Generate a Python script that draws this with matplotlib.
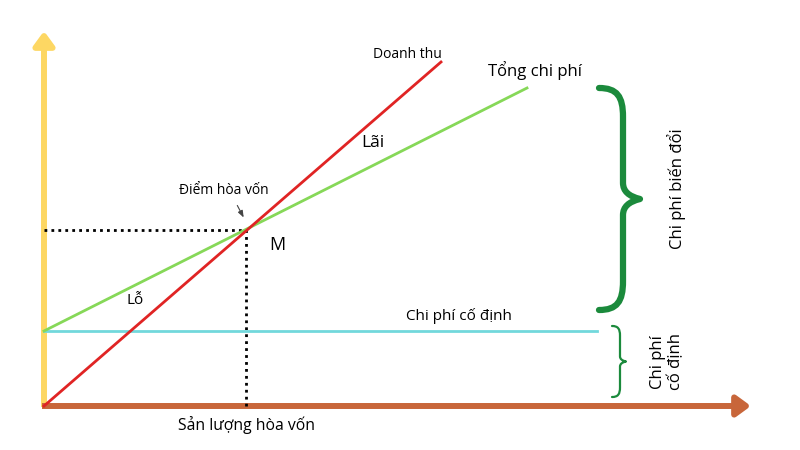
import numpy as np
import matplotlib.pyplot as plt
from matplotlib.path import Path
from matplotlib.patches import PathPatch, FancyArrowPatch

plt.rcParams['font.family'] = ['Open Sans', 'DejaVu Sans']

# san luong (truc hoanh) va gia tri (truc tung), don vi tuy y
q_revenue = [0, 397]
revenue = [0, 344]
q_cost = [0, 483]
total_cost = [75, 318]
q_fixed = [0, 553]
fixed_cost = [75, 75]
q_be, v_be = 202, 176

fig = plt.figure(figsize=(8, 4.5), dpi=100)
ax = fig.add_axes([0, 0, 1, 1])
ax.set_xlim(-44, 756)
ax.set_ylim(-44, 406)
ax.axis('off')

# truc toa do co mui ten
arrow_kw = dict(arrowstyle='-|>,head_length=0.85,head_width=0.62', mutation_scale=10,
                lw=4.3, shrinkA=0, shrinkB=0, joinstyle='round', capstyle='butt')
ax.add_patch(FancyArrowPatch((0, -1), (0, 375), color='#fdd763', **arrow_kw))
ax.add_patch(FancyArrowPatch((-2, 0), (707, 0), color='#c8663a', **arrow_kw))

ax.plot(q_fixed, fixed_cost, color='#72d8dc', lw=2, zorder=3)
ax.plot(q_cost, total_cost, color='#86d858', lw=2, zorder=3)
ax.plot(q_revenue, revenue, color='#e02424', lw=2, zorder=4)

# duong cham toi diem hoa von
ax.plot([0, q_be], [v_be, v_be], color='black', lw=2, ls=(0, (1, 1.5)), zorder=2)
ax.plot([q_be, q_be], [0, v_be], color='black', lw=2, ls=(0, (1, 1.5)), zorder=2)


def brace(x0, y0, y1, a, w, h, lw, color):
    # ngoac nhon quay sang phai
    ym = (y0 + y1) / 2
    xv, xt = x0 + a, x0 + w
    verts = [(x0, y1),
             (x0 + a * 0.75, y1), (xv, y1 - a * 0.35), (xv, y1 - a * 1.2),
             (xv, ym + h),
             (xv, ym + h * 0.25), (xt, ym),
             (xv, ym - h * 0.25), (xv, ym - h),
             (xv, y0 + a * 1.2),
             (xv, y0 + a * 0.35), (x0 + a * 0.75, y0), (x0, y0)]
    codes = [Path.MOVETO,
             Path.CURVE4, Path.CURVE4, Path.CURVE4,
             Path.LINETO,
             Path.CURVE3, Path.CURVE3,
             Path.CURVE3, Path.CURVE3,
             Path.LINETO,
             Path.CURVE4, Path.CURVE4, Path.CURVE4]
    ax.add_patch(PathPatch(Path(verts, codes), fill=False, lw=lw,
                           edgecolor=color, capstyle='round', joinstyle='round'))


brace(555, 96, 318, 24, 41, 16, 4.5, '#1b8a3c')
brace(568, 9, 80, 8, 14, 5, 1.6, '#1b8a3c')

ax.text(363, 352, 'Doanh thu', fontsize=10, ha='center', va='center')
ax.text(491, 335, 'Tổng chi phí', fontsize=12, ha='center', va='center')
ax.text(329, 263, 'Lãi', fontsize=12.5, ha='center', va='center')
ax.text(180, 216, 'Điểm hòa vốn', fontsize=10, ha='center', va='center')
ax.annotate('', xy=(q_be - 1, v_be + 10), xytext=(q_be - 10, v_be + 27),
            arrowprops=dict(arrowstyle='-|>,head_length=0.4,head_width=0.15', color='#444444', lw=0.8))
ax.text(233, 161, 'M', fontsize=13, ha='center', va='center')
ax.text(91, 106, 'Lỗ', fontsize=11, ha='center', va='center')
ax.text(415, 90, 'Chi phí cố định', fontsize=11, ha='center', va='center')
ax.text(202, -19, 'Sản lượng hòa vốn', fontsize=11.3, ha='center', va='center')
ax.text(633, 217, 'Chi phí biến đổi', fontsize=12, ha='center', va='center', rotation=90)
ax.text(623, 44, 'Chi phí\ncố định', fontsize=12, ha='center', va='center', rotation=90,
        linespacing=1.2)

fig.savefig('out.png', dpi=100)
